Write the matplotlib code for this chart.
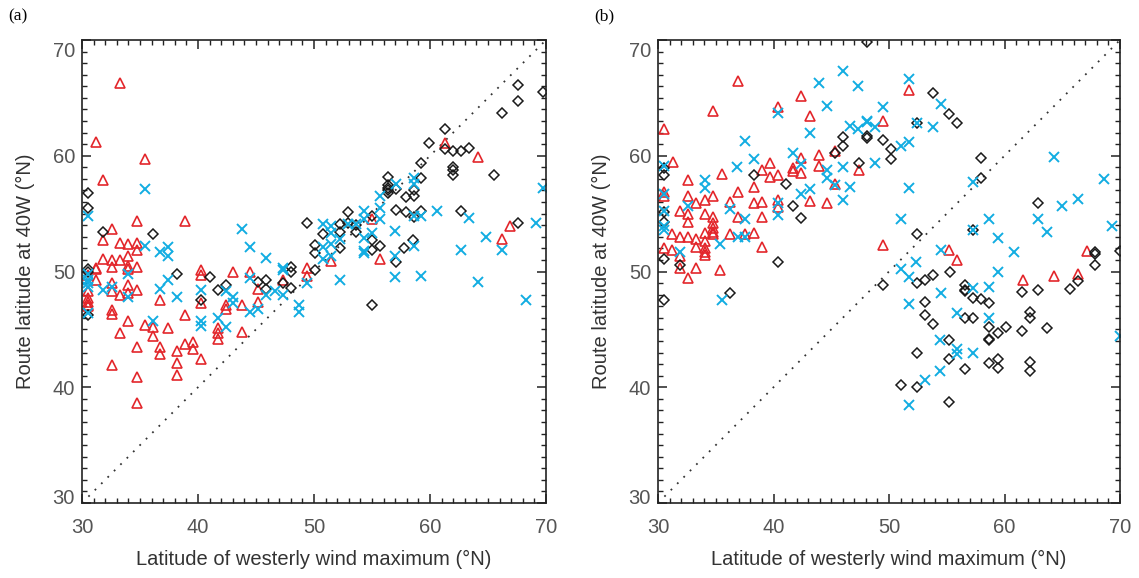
import matplotlib
matplotlib.use("Agg")
import matplotlib.pyplot as plt
import numpy as np
from matplotlib.ticker import MultipleLocator
from matplotlib.transforms import ScaledTranslation

plt.rcParams['font.family'] = ['Liberation Sans', 'DejaVu Sans']

# (x, y) = (latitude of westerly wind maximum, route latitude at 40W)
a_diamond = [
    (30.5, 56.8), (30.5, 55.5), (31.8, 53.4), (36.1, 53.2), (49.4, 54.2), (30.5, 50.2),
    (30.5, 50.0), (30.5, 46.2), (38.2, 49.8), (40.3, 47.5), (41.0, 49.5), (41.7, 48.4),
    (42.4, 48.8), (45.2, 49.1), (45.9, 49.3), (45.9, 48.5), (47.3, 49.0), (48.0, 50.4),
    (48.0, 50.0), (48.0, 48.6), (67.6, 66.1), (67.6, 64.7), (69.7, 65.5), (66.2, 63.7),
    (61.3, 62.3), (59.9, 61.1), (61.3, 60.6), (62.0, 60.4), (62.7, 60.4), (63.4, 60.7),
    (59.2, 59.4), (62.0, 59.0), (62.0, 58.8), (62.0, 58.3), (65.5, 58.3), (56.4, 58.2),
    (59.2, 58.1), (56.4, 57.5), (56.4, 57.2), (56.4, 57.0), (56.4, 56.8), (57.1, 57.1),
    (58.6, 57.0), (58.6, 56.5), (57.9, 56.4), (57.1, 55.3), (57.9, 55.1), (58.6, 54.7),
    (59.2, 55.2), (62.7, 55.2), (55.0, 54.8), (52.9, 55.1), (52.2, 54.1), (52.9, 54.2),
    (53.6, 54.0), (52.2, 53.4), (53.6, 53.4), (50.8, 53.2), (55.0, 52.7), (50.1, 52.3),
    (50.1, 51.6), (52.2, 52.0), (55.0, 51.9), (55.7, 52.2), (57.8, 52.0), (58.5, 52.7),
    (57.1, 50.8), (67.6, 54.2), (50.1, 50.1), (55.0, 47.1),
]
a_triangle = [
    (33.3, 66.3), (31.2, 61.2), (31.8, 57.9), (35.4, 59.7), (34.7, 54.4), (38.9, 54.4),
    (32.6, 53.7), (31.8, 52.7), (33.3, 52.5), (34.0, 52.4), (34.7, 52.5), (34.7, 51.9),
    (31.8, 51.1), (32.6, 51.0), (33.3, 51.0), (34.0, 51.3), (34.0, 50.5), (34.7, 50.4),
    (32.6, 50.4), (31.2, 50.3), (30.5, 49.7), (30.5, 48.3), (30.5, 47.7), (30.5, 47.4),
    (30.5, 47.1), (30.5, 47.0), (31.2, 50.2), (31.2, 49.3), (32.6, 49.0), (32.6, 48.3),
    (32.6, 46.7), (32.6, 46.3), (33.3, 48.0), (34.0, 50.2), (34.0, 48.8), (34.0, 48.1),
    (34.7, 48.4), (34.0, 45.7), (33.3, 44.7), (32.6, 41.9), (34.7, 43.5), (34.7, 40.9),
    (34.7, 38.6), (35.4, 45.4), (36.1, 45.2), (36.1, 44.4), (36.7, 47.5), (36.7, 43.5),
    (36.7, 42.9), (37.4, 45.1), (38.2, 43.1), (38.2, 42.1), (38.2, 41.1), (38.9, 46.2),
    (38.9, 43.7), (39.6, 43.9), (39.6, 43.3), (40.3, 42.4), (40.3, 50.1), (40.3, 49.7),
    (40.3, 47.3), (41.7, 45.1), (41.7, 44.7), (41.7, 44.2), (42.4, 47.1), (42.4, 46.8),
    (43.0, 50.0), (43.8, 47.1), (43.8, 44.8), (44.5, 50.0), (45.2, 48.5), (45.2, 47.4),
    (47.3, 49.3), (49.4, 50.3), (49.4, 49.6), (61.3, 61.1), (64.1, 59.9), (55.0, 54.5),
    (51.5, 50.9), (55.7, 51.1), (66.2, 52.8), (66.9, 53.9),
]
a_cross = [
    (30.5, 54.8), (35.4, 57.1), (43.8, 53.7), (35.4, 52.2), (44.5, 52.1), (36.7, 51.7),
    (37.4, 52.1), (37.4, 51.3), (45.9, 51.2), (30.5, 49.8), (30.5, 49.3), (30.5, 49.0),
    (30.5, 48.7), (30.5, 46.4), (31.8, 48.4), (32.6, 48.7), (34.0, 49.8), (34.0, 47.8),
    (36.1, 45.7), (36.7, 48.5), (37.4, 49.3), (38.2, 47.8), (40.3, 48.4), (40.3, 45.7),
    (40.3, 45.3), (41.7, 46.0), (42.4, 48.3), (42.4, 45.2), (43.0, 47.8), (43.0, 47.3),
    (44.5, 49.4), (44.5, 46.5), (45.2, 46.8), (45.9, 48.0), (46.6, 48.3), (47.3, 50.3),
    (47.3, 50.1), (47.3, 48.0), (48.7, 47.1), (48.7, 46.5), (49.4, 49.0), (69.7, 57.2),
    (58.6, 58.1), (57.1, 57.6), (58.6, 57.6), (55.7, 56.5), (55.7, 55.5), (55.7, 54.5),
    (58.6, 54.8), (59.2, 54.8), (60.6, 55.2), (63.4, 54.6), (54.3, 55.2), (54.3, 54.5),
    (50.8, 54.1), (51.5, 53.9), (52.9, 54.1), (53.6, 54.1), (51.5, 53.3), (52.2, 52.8),
    (54.3, 52.9), (55.0, 53.3), (50.8, 52.1), (51.5, 52.4), (58.6, 52.2), (57.0, 53.5),
    (54.3, 51.8), (54.3, 51.6), (51.5, 51.3), (50.8, 51.1), (57.0, 51.3), (62.7, 51.9),
    (66.2, 51.9), (69.1, 54.2), (64.8, 53.0), (57.0, 49.5), (59.2, 49.6), (52.2, 49.3),
    (64.1, 49.1), (68.3, 47.5),
]

b_diamond = [
    (30.5, 58.9), (30.5, 58.3), (48.1, 61.7), (46.0, 61.6), (46.0, 60.8), (45.3, 60.2),
    (47.4, 59.4), (38.3, 58.3), (41.1, 57.6), (41.7, 55.7), (42.4, 54.6), (30.5, 51.1),
    (31.9, 50.6), (40.4, 50.8), (30.5, 54.3), (30.5, 55.1), (30.5, 47.5), (36.2, 48.1),
    (48.1, 69.8), (53.8, 65.4), (55.2, 63.6), (55.9, 62.8), (48.1, 61.5), (52.4, 62.8),
    (49.5, 61.4), (50.2, 60.6), (50.2, 59.7), (58.0, 59.8), (58.0, 58.1), (62.9, 55.9),
    (57.3, 53.6), (52.4, 53.2), (67.8, 51.7), (67.8, 51.5), (67.8, 50.6), (70.0, 51.8),
    (53.1, 49.3), (53.8, 49.7), (55.3, 50.0), (66.4, 49.2), (49.5, 48.8), (52.4, 49.0),
    (65.7, 48.5), (61.5, 48.2), (62.9, 48.4), (53.1, 47.4), (56.6, 48.8), (56.6, 48.4),
    (56.6, 48.3), (57.3, 47.7), (58.0, 47.6), (58.7, 47.3), (53.1, 46.2), (53.8, 45.5),
    (56.6, 46.0), (57.3, 46.0), (58.7, 45.2), (58.7, 44.2), (58.7, 44.1), (59.4, 44.7),
    (60.1, 45.2), (61.5, 44.9), (63.7, 45.1), (62.2, 46.5), (62.2, 46.0), (55.2, 44.1),
    (52.4, 43.0), (55.2, 42.4), (58.7, 42.1), (59.4, 42.4), (59.4, 41.7), (62.2, 42.2),
    (62.2, 41.4), (56.6, 41.6), (51.0, 40.2), (52.4, 40.0), (55.2, 38.7),
]
b_triangle = [
    (36.9, 66.5), (34.8, 63.9), (30.5, 62.3), (42.4, 65.2), (40.4, 64.2), (43.2, 63.4),
    (45.3, 60.4), (43.9, 60.1), (42.4, 59.8), (39.7, 59.4), (31.3, 59.5), (39.0, 58.8),
    (41.7, 58.9), (41.7, 58.7), (42.4, 58.5), (43.9, 59.1), (47.4, 58.8), (45.3, 57.6),
    (35.5, 58.4), (39.7, 58.2), (40.4, 58.3), (32.6, 57.9), (38.3, 57.3), (36.9, 56.9),
    (30.5, 56.9), (30.5, 56.5), (32.6, 56.5), (34.8, 56.5), (34.1, 56.2), (33.3, 55.9),
    (36.2, 56.0), (38.3, 55.9), (39.0, 56.0), (40.4, 56.2), (40.4, 55.6), (43.2, 56.1),
    (44.6, 55.9), (36.9, 54.7), (39.0, 54.7), (31.9, 55.2), (32.6, 55.0), (32.6, 54.3),
    (34.1, 55.0), (34.8, 54.7), (31.2, 53.2), (31.9, 53.0), (32.6, 53.0), (33.3, 52.8),
    (34.1, 53.3), (34.8, 54.2), (34.8, 53.8), (34.8, 53.4), (34.8, 53.2), (34.1, 52.6),
    (36.2, 53.2), (37.5, 53.2), (38.3, 53.3), (33.3, 52.1), (34.1, 52.0), (34.1, 51.7),
    (34.1, 51.4), (30.5, 52.0), (31.2, 51.9), (39.0, 52.1), (31.9, 51.3), (31.9, 50.3),
    (33.3, 50.3), (32.6, 49.4), (35.4, 50.1), (51.7, 65.7), (49.5, 63.0), (49.5, 52.3),
    (55.2, 51.9), (55.9, 51.0), (67.1, 51.8), (61.6, 49.3), (64.3, 49.6), (66.4, 49.8),
]
b_cross = [
    (37.5, 61.3), (40.4, 63.7), (43.2, 62.0), (43.9, 66.3), (44.6, 64.3), (46.0, 67.3),
    (47.3, 66.0), (46.6, 62.6), (47.3, 62.3), (48.1, 63.0), (48.8, 62.5), (41.7, 60.2),
    (42.4, 59.3), (38.3, 59.7), (30.5, 59.1), (36.8, 59.0), (46.0, 59.0), (48.8, 59.4),
    (44.6, 58.8), (44.6, 58.1), (45.3, 57.5), (46.6, 57.3), (46.0, 56.2), (34.1, 57.9),
    (34.1, 57.2), (30.5, 56.7), (32.6, 55.7), (40.4, 55.9), (40.4, 54.9), (42.4, 56.7),
    (43.2, 57.1), (36.2, 55.4), (37.5, 54.5), (36.9, 53.0), (37.5, 53.0), (35.4, 52.4),
    (31.9, 51.7), (30.5, 55.2), (30.5, 53.9), (30.5, 53.6), (35.5, 47.5), (51.7, 66.6),
    (54.5, 64.5), (49.5, 64.2), (48.1, 62.9), (52.4, 62.8), (53.8, 62.5), (51.0, 60.8),
    (51.7, 61.2), (51.7, 57.2), (57.3, 57.7), (64.3, 59.9), (68.6, 58.0), (66.4, 56.3),
    (65.0, 55.7), (62.9, 54.5), (63.7, 53.4), (69.3, 53.9), (51.0, 54.5), (58.7, 54.5),
    (59.4, 52.9), (57.3, 53.6), (54.5, 51.9), (60.8, 51.7), (52.3, 50.8), (51.0, 50.2),
    (51.7, 49.5), (59.4, 50.0), (51.7, 47.2), (54.5, 48.1), (57.3, 48.6), (58.7, 48.7),
    (55.9, 46.4), (58.7, 46.0), (70.0, 44.4), (54.4, 44.1), (55.9, 43.3), (55.9, 42.9),
    (57.3, 43.0), (54.4, 41.4), (53.1, 40.6), (51.7, 38.5),
]

RED = '#e3262b'
CYAN = '#12ade2'
BLACK = '#1a1a1a'


def draw_panel(ax, diamonds, triangles, crosses, fig):
    d = np.array(diamonds)
    t = np.array(triangles)
    c = np.array(crosses)
    ax.plot([30, 70], [30, 70], ls=(0, (1, 4)), color='#333333', lw=1.3)
    ax.plot(t[:, 0], t[:, 1], ls='none', marker='^', ms=7.5, mfc='none',
            mec=RED, mew=1.2)
    ax.plot(d[:, 0], d[:, 1], ls='none', marker='D', ms=4.6, mfc='none',
            mec=BLACK, mew=1.1)
    ax.plot(c[:, 0], c[:, 1], ls='none', marker='x', ms=6.5, mec=CYAN, mew=1.4)

    ax.set_xlim(30, 70)
    ax.set_ylim(30, 70)
    ax.set_xticks([30, 40, 50, 60, 70])
    ax.set_yticks([30, 40, 50, 60, 70])
    ax.xaxis.set_minor_locator(MultipleLocator(1))
    ax.yaxis.set_minor_locator(MultipleLocator(1))
    ax.tick_params(which='both', direction='in', top=True, right=True,
                   color='#222222', labelcolor='#555555', labelsize=14.5)
    ax.tick_params(which='major', length=6.5, width=1.1)
    ax.tick_params(which='minor', length=3.3, width=1.0)
    ax.tick_params(axis='x', which='major', pad=11)
    ax.tick_params(axis='y', which='major', pad=5)
    for sp in ax.spines.values():
        sp.set_linewidth(1.2)
        sp.set_color('#222222')

    # end labels on the y axis sit slightly inside the frame
    ticks = ax.yaxis.get_major_ticks()
    ticks[0].label1.set_transform(ticks[0].label1.get_transform()
                                  + ScaledTranslation(0, 5 / 72, fig.dpi_scale_trans))
    ticks[-1].label1.set_transform(ticks[-1].label1.get_transform()
                                   + ScaledTranslation(0, -7 / 72, fig.dpi_scale_trans))

    ax.set_xlabel('Latitude of westerly wind maximum (°N)', fontsize=14.5,
                  color='#333333', labelpad=9)
    ax.set_ylabel('Route latitude at 40W (°N)', fontsize=14.5,
                  color='#333333', labelpad=13)


fig = plt.figure(figsize=(11.39, 5.78), dpi=100)
ax_a = fig.add_axes([82 / 1139, 75 / 578, 464 / 1139, 463 / 578])
ax_b = fig.add_axes([658 / 1139, 75 / 578, 462 / 1139, 463 / 578])

draw_panel(ax_a, a_diamond, a_triangle, a_cross, fig)
draw_panel(ax_b, b_diamond, b_triangle, b_cross, fig)

serif = ['Liberation Serif', 'DejaVu Serif']
fig.text(8 / 1139, 1 - 16 / 578, '(a)', fontsize=12.5, family=serif, va='center')
fig.text(594 / 1139, 1 - 16 / 578, '(b)', fontsize=12.5, family=serif, va='center')

fig.savefig('out.png', dpi=100)
